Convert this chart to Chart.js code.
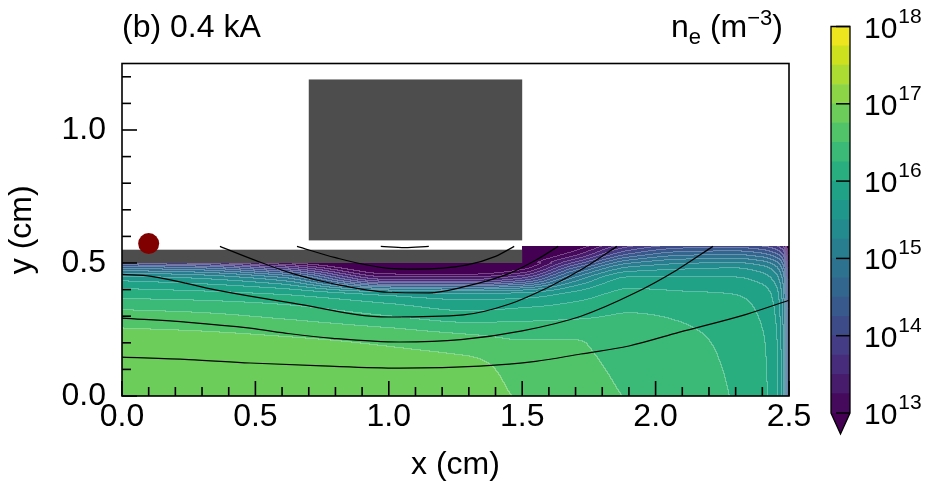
<!DOCTYPE html>
<html><head><meta charset="utf-8">
<script src="https://cdn.jsdelivr.net/npm/chart.js@4/dist/chart.umd.min.js"></script>
<style>
html,body{margin:0;padding:0;background:#fff;}
#wrap{position:relative;width:933px;height:495px;background:#fff;}
canvas{position:absolute;left:0;top:0;}
</style></head><body>
<div id="wrap"><canvas id="main" width="933" height="495"></canvas><canvas id="cbar" width="933" height="495"></canvas></div>
<script>
// ---------------- DATA ----------------
// grid of log10(n_e / m^-3)
const gridX = [0, 0.3, 0.6, 1.0, 1.3, 1.5, 1.7, 1.9, 2.1, 2.3, 2.4, 2.45, 2.48, 2.5];
const gridY = [0, 0.1, 0.2, 0.3, 0.38, 0.44, 0.48, 0.5, 0.53, 0.5625];
// columns under the electrode bar stop at y = 0.5
const ne_x000 = [16.95, 16.93, 16.86, 16.60, 16.15, 15.65, 14.70, 13.90];
const ne_x030 = [16.95, 16.92, 16.84, 16.55, 16.10, 15.50, 14.50, 13.60];
const ne_x060 = [16.94, 16.90, 16.80, 16.45, 16.00, 15.10, 13.80, 13.00];
const ne_x100 = [16.92, 16.86, 16.72, 16.25, 15.70, 13.40, 12.60, 12.40];
const ne_x130 = [16.86, 16.82, 16.62, 16.10, 15.55, 13.40, 12.60, 12.50];
const ne_x150 = [16.72, 16.66, 16.52, 16.15, 15.60, 13.80, 12.90, 12.70, 12.50, 12.40];
const ne_x170 = [16.56, 16.55, 16.51, 16.20, 15.85, 15.10, 14.30, 13.80, 13.20, 12.80];
const ne_x190 = [16.49, 16.46, 16.40, 16.27, 16.08, 15.80, 15.30, 14.95, 14.30, 13.70];
const ne_x210 = [16.36, 16.34, 16.31, 16.22, 16.04, 15.80, 15.45, 15.20, 14.70, 14.10];
const ne_x230 = [16.23, 16.21, 16.18, 16.11, 16.00, 15.78, 15.50, 15.25, 14.75, 14.15];
const ne_x240 = [16.06, 16.05, 16.03, 15.97, 15.88, 15.65, 15.35, 15.10, 14.60, 14.00];
const ne_x245 = [15.85, 15.84, 15.82, 15.75, 15.65, 15.40, 15.10, 14.85, 14.35, 13.80];
const ne_x248 = [15.30, 15.30, 15.28, 15.20, 15.10, 14.90, 14.60, 14.40, 14.00, 13.50];
const ne_x250 = [14.00, 14.00, 13.98, 13.90, 13.80, 13.60, 13.40, 13.20, 12.90, 12.60];
const neColumns = [ne_x000, ne_x030, ne_x060, ne_x100, ne_x130, ne_x150, ne_x170, ne_x190, ne_x210, ne_x230, ne_x240, ne_x245, ne_x248, ne_x250];

// contour levels (log10) and colorbar ticks
const levels = [13, 13.25, 13.5, 13.75, 14, 14.25, 14.5, 14.75, 15, 15.25, 15.5, 15.75, 16, 16.25, 16.5, 16.75, 17, 17.25, 17.5, 17.75, 18];
const cbarTicks = [13, 14, 15, 16, 17, 18];

// field lines (x, y in cm)
const lineA_x = [0, 0.25, 0.48, 0.75, 1.04, 1.34, 1.55, 1.72, 1.9, 2.09, 2.34, 2.5];
const lineA_y = [0.146, 0.137, 0.124, 0.113, 0.105, 0.112, 0.13, 0.158, 0.188, 0.24, 0.307, 0.36];
const lineB_x = [0, 0.25, 0.48, 0.63, 0.79, 1.04, 1.27, 1.5, 1.72, 1.92, 2.08, 2.215];
const lineB_y = [0.293, 0.277, 0.255, 0.234, 0.217, 0.203, 0.212, 0.245, 0.3, 0.386, 0.474, 0.5625];
const lineC_x = [0, 0.11, 0.36, 0.64, 1.0, 1.28, 1.45, 1.6, 1.73, 1.855];
const lineC_y = [0.457, 0.45, 0.397, 0.349, 0.297, 0.305, 0.345, 0.41, 0.48, 0.5625];
const lineD_x = [0.367, 0.5, 0.64, 0.8, 1.0, 1.15, 1.28, 1.45, 1.55, 1.635];
const lineD_y = [0.5625, 0.51, 0.46, 0.42, 0.39, 0.388, 0.41, 0.46, 0.51, 0.5625];
const lineE_x = [0.656, 0.8, 1.0, 1.1, 1.29, 1.4, 1.47];
const lineE_y = [0.5625, 0.52, 0.48, 0.477, 0.492, 0.525, 0.5625];
const lineF_x = [0.97, 1.06, 1.15];
const lineF_y = [0.5625, 0.558, 0.5625];

// marker (red dot)
const dotX = [0.1];
const dotY = [0.573];

// geometry of electrodes (cm)
const barRect = [0, 1.5, 0.5, 0.55];     // x0, x1, y0, y1
const blockRect = [0.7, 1.5, 0.585, 1.19];
const domainTop = 0.5625;

// axis ticks
const xMajor = [0, 0.5, 1.0, 1.5, 2.0, 2.5];
const xMinor = [0.1, 0.2, 0.3, 0.4, 0.6, 0.7, 0.8, 0.9, 1.1, 1.2, 1.3, 1.4, 1.6, 1.7, 1.8, 1.9, 2.1, 2.2, 2.3, 2.4];
const yMajor = [0, 0.5, 1.0];
const yMinor = [0.1, 0.2, 0.3, 0.4, 0.6, 0.7, 0.8, 0.9, 1.1, 1.2];

// ---------------- STYLE ----------------
const VIR = ['#440154','#471365','#482475','#463480','#414487','#3b528b','#355f8d','#2f6c8e','#2a788e','#25848e','#21918c','#1e9c89','#22a884','#2fb47c','#44bf70','#5ec962','#7ad151','#9bd93c','#bddf26','#dfe318','#fde725'];
function hex2rgb(h){return [parseInt(h.slice(1,3),16),parseInt(h.slice(3,5),16),parseInt(h.slice(5,7),16)];}
const VIRrgb = VIR.map(hex2rgb);
function viridis(t){
  t=Math.max(0,Math.min(1,t)); const f=t*20; const i=Math.min(19,Math.floor(f)); const u=f-i;
  const a=VIRrgb[i], b=VIRrgb[i+1];
  return [0,1,2].map(k=>Math.round(a[k]+(b[k]-a[k])*u));
}
const nBands = levels.length-1;
const bandRGB = []; for(let i=0;i<nBands;i++) bandRGB.push(viridis((i+0.5)/nBands));
const underRGB = hex2rgb('#440154');
const rgbStr = c=>`rgb(${c[0]},${c[1]},${c[2]})`;
const SANS = '"Liberation Sans", Arial, Helvetica, sans-serif';
const GRAY = '#4d4d4d';

// monotone cubic (PCHIP) interpolation helpers
function locate(arr,v){let k=0; while(k<arr.length-2 && v>arr[k+1]) k++; return k;}
function pchipSlopes(xs,ys){
  const n=xs.length, d=[], m=new Array(n);
  for(let i=0;i<n-1;i++) d.push((ys[i+1]-ys[i])/(xs[i+1]-xs[i]));
  m[0]=d[0]; m[n-1]=d[n-2];
  for(let i=1;i<n-1;i++){
    if(d[i-1]*d[i]<=0) m[i]=0;
    else {const h0=xs[i]-xs[i-1], h1=xs[i+1]-xs[i]; const w1=2*h1+h0, w2=h1+2*h0; m[i]=(w1+w2)/(w1/d[i-1]+w2/d[i]);}
  }
  return m;
}
function pchipEval(xs,ys,m,x){
  const k=locate(xs,x); const h=xs[k+1]-xs[k]; const t=Math.max(0,Math.min(1,(x-xs[k])/h));
  const t2=t*t, t3=t2*t;
  return (2*t3-3*t2+1)*ys[k]+(t3-2*t2+t)*h*m[k]+(-2*t3+3*t2)*ys[k+1]+(t3-t2)*h*m[k+1];
}
const colY = neColumns.map(c=>gridY.slice(0,c.length));
const colM = neColumns.map((c,i)=>pchipSlopes(colY[i],c));
function rowProfile(yv){
  const xs=[], vs=[];
  neColumns.forEach((c,i)=>{
    if(yv>colY[i][colY[i].length-1]+1e-9) return;
    xs.push(gridX[i]); vs.push(pchipEval(colY[i],c,colM[i],yv));
  });
  return {xs, vs, m:pchipSlopes(xs,vs)};
}
function inDomain(xv,yv){
  if(xv<0||xv>2.5||yv<0||yv>domainTop) return false;
  if(xv<barRect[1] && yv>barRect[2]) return false;
  return true;
}
function bandOf(v){
  if(v<levels[0]) return -1;
  const b=Math.floor((v-levels[0])/(levels[1]-levels[0]));
  return Math.min(nBands-1,b);
}

const fieldPlugin = {
  id:'field',
  beforeDatasetsDraw(chart){
    const {ctx, chartArea:a, scales:{x,y}} = chart;
    const L=Math.round(a.left), T=Math.round(a.top);
    const w=Math.round(a.right)-L, h=Math.round(a.bottom)-T;
    const off=document.createElement('canvas'); off.width=w; off.height=h;
    const octx=off.getContext('2d'); const img=octx.createImageData(w,h);
    const band=new Int16Array(w*h).fill(-99);
    for(let j=0;j<h;j++){
      const yv=y.getValueForPixel(T+j+0.5);
      if(yv<0||yv>domainTop) continue;
      const row=rowProfile(yv);
      for(let i=0;i<w;i++){
        const xv=x.getValueForPixel(L+i+0.5);
        if(!inDomain(xv,yv)) continue;
        band[j*w+i]=bandOf(pchipEval(row.xs,row.vs,row.m,xv));
      }
    }
    for(let j=0;j<h;j++) for(let i=0;i<w;i++){
      const b=band[j*w+i]; if(b===-99) continue;
      let c=(b<0?underRGB:bandRGB[b]).slice();
      let seam=false;
      if(i+1<w){const r=band[j*w+i+1]; if(r!==-99 && r!==b) seam=true;}
      if(j+1<h){const d=band[(j+1)*w+i]; if(d!==-99 && d!==b) seam=true;}
      if(seam){ c=c.map(v=>Math.round(v+(255-v)*0.28)); }
      const p=(j*w+i)*4; img.data[p]=c[0]; img.data[p+1]=c[1]; img.data[p+2]=c[2]; img.data[p+3]=255;
    }
    octx.putImageData(img,0,0);
    ctx.save(); ctx.drawImage(off,L,T);
    ctx.fillStyle=GRAY;
    [barRect,blockRect].forEach(r=>{
      const x0=x.getPixelForValue(r[0]), x1=x.getPixelForValue(r[1]);
      const y0=y.getPixelForValue(r[2]), y1=y.getPixelForValue(r[3]);
      ctx.fillRect(x0,y1,x1-x0,y0-y1);
    });
    ctx.restore();
  },
  afterDraw(chart){
    const {ctx, chartArea:a, scales:{x,y}} = chart;
    ctx.save();
    ctx.strokeStyle='#000'; ctx.lineWidth=1.6; ctx.lineCap='butt';
    const tk=(arr,len,axis)=>arr.forEach(v=>{
      ctx.beginPath();
      if(axis==='x'){const p=x.getPixelForValue(v); ctx.moveTo(p,a.bottom); ctx.lineTo(p,a.bottom-len);}
      else {const p=y.getPixelForValue(v); ctx.moveTo(a.left,p); ctx.lineTo(a.left+len,p);}
      ctx.stroke();
    });
    tk(xMajor,15,'x'); tk(xMinor,9,'x'); tk(yMajor,15,'y'); tk(yMinor,9,'y');
    ctx.strokeRect(a.left,a.top,a.right-a.left,a.bottom-a.top);
    ctx.fillStyle='#000'; ctx.textAlign='left'; ctx.textBaseline='alphabetic';
    ctx.font=`32px ${SANS}`;
    ctx.fillText('(b) 0.4 kA', a.left, 37);
    const parts=[{t:'n',s:32,dy:0},{t:'e',s:22,dy:7},{t:' (m',s:32,dy:0},{t:'\u22123',s:22,dy:-12},{t:')',s:32,dy:0}];
    let tot=0; parts.forEach(p=>{ctx.font=`${p.s}px ${SANS}`; p.w=ctx.measureText(p.t).width; tot+=p.w;});
    let xx=783-tot;
    parts.forEach(p=>{ctx.font=`${p.s}px ${SANS}`; ctx.fillText(p.t,xx,37+p.dy); xx+=p.w;});
    ctx.restore();
  }
};

const lineDS = (xs,ys)=>({type:'line', data:xs.map((v,i)=>({x:v,y:ys[i]})), borderColor:'#000', borderWidth:1.2, pointRadius:0, fill:false, cubicInterpolationMode:'monotone', clip:false});

new Chart(document.getElementById('main'), {
  type:'scatter',
  data:{datasets:[
    {data:dotX.map((v,i)=>({x:v,y:dotY[i]})), pointRadius:10.5, backgroundColor:'#800000', borderWidth:0, pointHoverRadius:10.5},
    lineDS(lineA_x,lineA_y), lineDS(lineB_x,lineB_y), lineDS(lineC_x,lineC_y),
    lineDS(lineD_x,lineD_y), lineDS(lineE_x,lineE_y), lineDS(lineF_x,lineF_y)
  ]},
  options:{
    responsive:false, animation:false, events:[],
    layout:{padding:{left:0,right:144,top:63.5,bottom:0}},
    plugins:{legend:{display:false}, tooltip:{enabled:false}},
    scales:{
      x:{type:'linear', min:0, max:2.5, afterFit(s){s.height=99;},
         grid:{display:false, drawTicks:false}, border:{display:false},
         ticks:{stepSize:0.5, autoSkip:false, maxRotation:0, padding:2, color:'#000', font:{family:SANS,size:32}, callback:v=>Number(v).toFixed(1)},
         title:{display:true, text:'x (cm)', color:'#000', font:{family:SANS,size:32}, padding:{top:0,bottom:10.8}}},
      y:{type:'linear', min:0, max:1.25, afterFit(s){s.width=122;},
         grid:{display:false, drawTicks:false}, border:{display:false},
         ticks:{stepSize:0.5, includeBounds:false, autoSkip:false, padding:16, color:'#000', font:{family:SANS,size:32}, callback:v=>Number(v).toFixed(1)},
         title:{display:true, text:'y (cm)', color:'#000', font:{family:SANS,size:32}, padding:{top:3,bottom:0}}}
    }
  },
  plugins:[fieldPlugin]
});

// ---------------- COLORBAR ----------------
const cbPlugin = {
  id:'cb',
  afterDatasetsDraw(chart){
    const {ctx, chartArea:a, scales:{y}} = chart;
    const tipY = 434, cx=(a.left+a.right)/2;
    ctx.save();
    ctx.fillStyle=rgbStr(underRGB);
    ctx.beginPath(); ctx.moveTo(a.left,a.bottom); ctx.lineTo(a.right,a.bottom); ctx.lineTo(cx,tipY); ctx.closePath(); ctx.fill();
    ctx.strokeStyle='#000'; ctx.lineWidth=1.5;
    cbarTicks.forEach(t=>{const p=y.getPixelForValue(t); ctx.beginPath(); ctx.moveTo(a.right-14,p); ctx.lineTo(a.right,p); ctx.stroke();});
    ctx.lineWidth=1.3;
    ctx.beginPath(); ctx.moveTo(a.left,a.top); ctx.lineTo(a.right,a.top); ctx.lineTo(a.right,a.bottom); ctx.lineTo(cx,tipY); ctx.lineTo(a.left,a.bottom); ctx.closePath(); ctx.stroke();
    ctx.fillStyle='#000'; ctx.textAlign='left'; ctx.textBaseline='alphabetic';
    cbarTicks.forEach(t=>{
      const p=y.getPixelForValue(t);
      ctx.font=`30px ${SANS}`; ctx.fillText('10',864,p+11);
      const w=ctx.measureText('10').width;
      ctx.font=`21px ${SANS}`; ctx.fillText(String(t),864+w+1,p-4);
    });
    ctx.restore();
  }
};
new Chart(document.getElementById('cbar'), {
  type:'bar',
  data:{labels:['n_e'], datasets: bandRGB.map((c,i)=>({data:[[levels[i],levels[i+1]]], backgroundColor:rgbStr(c), borderWidth:0, barPercentage:1, categoryPercentage:1, grouped:false}))},
  options:{
    responsive:false, animation:false, events:[],
    layout:{padding:{left:831,right:933-850,top:26.5,bottom:495-413}},
    plugins:{legend:{display:false}, tooltip:{enabled:false}},
    scales:{x:{display:false}, y:{display:false, min:13, max:18}}
  },
  plugins:[cbPlugin]
});
</script>
</body></html>
